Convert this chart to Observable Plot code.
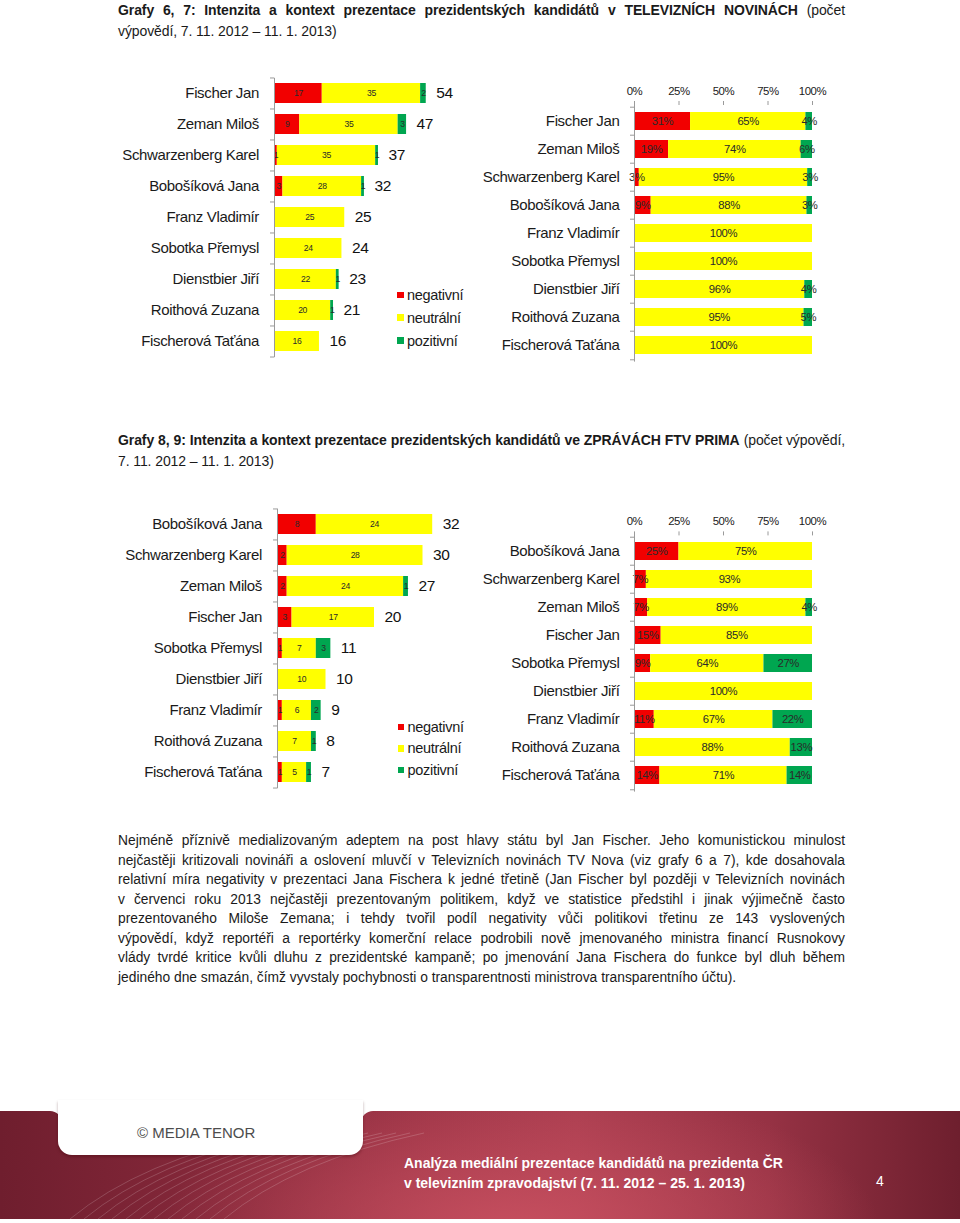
<!DOCTYPE html>
<html><head><meta charset="utf-8">
<script src="https://cdn.jsdelivr.net/npm/d3@7"></script>
<script src="https://cdn.jsdelivr.net/npm/@observablehq/plot@0.6"></script>
<style>
html,body{margin:0;padding:0;background:#fff;}
#page{position:relative;width:960px;height:1223px;overflow:hidden;color:#1a1a1a;}
.jl{position:absolute;left:118px;width:727px;text-align:justify;text-align-last:justify;white-space:normal;}
.ll{text-align-last:left;}
</style></head><body><div id="page"></div>
<script>
// ---------- data ----------
const names1 = ["Fischer Jan","Zeman Miloš","Schwarzenberg Karel","Bobošíková Jana","Franz Vladimír","Sobotka Přemysl","Dienstbier Jiří","Roithová Zuzana","Fischerová Taťána"];
const neg1 = [17, 9, 1, 3, 0, 0, 0, 0, 0];
const neu1 = [35, 35, 35, 28, 25, 24, 22, 20, 16];
const pos1 = [2, 3, 1, 1, 0, 0, 1, 1, 0];

const names2 = ["Bobošíková Jana","Schwarzenberg Karel","Zeman Miloš","Fischer Jan","Sobotka Přemysl","Dienstbier Jiří","Franz Vladimír","Roithová Zuzana","Fischerová Taťána"];
const neg2 = [8, 2, 2, 3, 1, 0, 1, 0, 1];
const neu2 = [24, 28, 24, 17, 7, 10, 6, 7, 5];
const pos2 = [0, 0, 1, 0, 3, 0, 2, 1, 1];

const sentiments = ["negativní","neutrální","pozitivní"];
const colors = ["#f20000","#ffff00","#00a650"];
const pctTicks = [0, 0.25, 0.5, 0.75, 1];

const title1 = ["Grafy 6, 7: Intenzita a kontext prezentace prezidentských kandidátů v TELEVIZNÍCH NOVINÁCH", " (počet", "výpovědí, 7. 11. 2012 – 11. 1. 2013)"];
const title2 = ["Grafy 8, 9: Intenzita a kontext prezentace prezidentských kandidátů ve ZPRÁVÁCH FTV PRIMA", " (počet výpovědí,", "7. 11. 2012 – 11. 1. 2013)"];
const paragraph = [
  "Nejméně příznivě medializovaným adeptem na post hlavy státu byl Jan Fischer. Jeho komunistickou minulost",
  "nejčastěji kritizovali novináři a oslovení mluvčí v Televizních novinách TV Nova (viz grafy 6 a 7), kde dosahovala",
  "relativní míra negativity v prezentaci Jana Fischera k jedné třetině (Jan Fischer byl později v Televizních novinách",
  "v červenci roku 2013 nejčastěji prezentovaným politikem, když ve statistice předstihl i jinak výjimečně často",
  "prezentovaného Miloše Zemana; i tehdy tvořil podíl negativity vůči politikovi třetinu ze 143 vyslovených",
  "výpovědí, když reportéři a reportérky komerční relace podrobili nově jmenovaného ministra financí Rusnokovy",
  "vlády tvrdé kritice kvůli dluhu z prezidentské kampaně; po jmenování Jana Fischera do funkce byl dluh během",
  "jediného dne smazán, čímž vyvstaly pochybnosti o transparentnosti ministrova transparentního účtu)."
];
const footerBrand = "© MEDIA TENOR";
const footerLines = ["Analýza mediální prezentace kandidátů na prezidenta ČR", "v televizním zpravodajství (7. 11. 2012 – 25. 1. 2013)"];
const pageNumber = "4";

// ---------- fonts ----------
const FONT = "'Liberation Sans',Arial,sans-serif";
const ctx = document.createElement("canvas").getContext("2d");
function tw(s, size, weight = "normal") { ctx.font = `${weight} ${size}px ${FONT}`; return ctx.measureText(s).width; }
// choose size + letter-spacing so that the given parts fit a target width
function fit(parts, target, pref, minLs) {
  const w100 = d3.sum(parts, p => tw(p.t, 100, p.w || "normal"));
  const n = d3.sum(parts, p => [...p.t].length);
  let size = pref, ls = (target - w100 * size / 100) / n;
  if (ls < minLs) { ls = minLs; size = (target - minLs * n) * 100 / w100; }
  if (ls > 0) ls = 0;
  return {size, ls};
}

const page = document.getElementById("page");
function addDiv(html, css, cls) {
  const d = document.createElement("div");
  if (cls) d.className = cls;
  d.innerHTML = html;
  Object.assign(d.style, {position: "absolute", fontFamily: FONT}, css);
  page.appendChild(d);
  return d;
}

// ---------- titles ----------
const tf = fit([{t: title2[0], w: "bold"}, {t: title2[1]}], 724, 14, -0.45);
function title(t, cy1, cy2) {
  const css = {lineHeight: "20px", fontSize: tf.size + "px", letterSpacing: tf.ls + "px"};
  addDiv(`<b>${t[0]}</b>${t[1]}`, {...css, top: (cy1 - 10) + "px"}, "jl");
  addDiv(t[2], {...css, top: (cy2 - 10) + "px"}, "jl ll");
}
title(title1, 10, 31);
title(title2, 440, 461);

// ---------- data tables ----------
function longTable(names, neg, neu, pos) {
  const out = [];
  names.forEach((n, i) => {
    const vals = [neg[i], neu[i], pos[i]];
    const tot = d3.sum(vals);
    vals.forEach((v, j) => { if (v > 0) out.push({name: n, sentiment: sentiments[j], value: v, pct: Math.round(v / tot * 100)}); });
  });
  return out;
}
function totalsTable(names, neg, neu, pos) {
  return names.map((n, i) => ({name: n, total: neg[i] + neu[i] + pos[i]}));
}
const data1 = longTable(names1, neg1, neu1, pos1);
const data2 = longTable(names2, neg2, neu2, pos2);
const tot1 = totalsTable(names1, neg1, neu1, pos1);
const tot2 = totalsTable(names2, neg2, neu2, pos2);

const axisColor = "#9a9a9a";
const baseStyle = {fontFamily: FONT, fontSize: "15px", color: "#1a1a1a", background: "transparent", overflow: "visible", letterSpacing: "-0.35px"};

function boundaryTicks(names, step) {
  return [
    Plot.ruleY(names, {y: d => d, x1: 0, x2: 0, insetLeft: -4, dy: -step / 2, stroke: axisColor}),
    Plot.ruleY(names.slice(-1), {y: d => d, x1: 0, x2: 0, insetLeft: -4, dy: step / 2, stroke: axisColor})
  ];
}

function countChart(names, data, totals, o) {
  const step = (o.height - o.mt - o.mb) / names.length;
  return Plot.plot({
    width: o.width, height: o.height,
    marginLeft: o.ml, marginRight: o.width - o.ml - o.xmax * o.ppu, marginTop: o.mt, marginBottom: o.mb,
    x: {domain: [0, o.xmax], axis: null},
    y: {domain: names, paddingInner: 0.35, paddingOuter: 0.175},
    color: {domain: sentiments, range: colors},
    style: baseStyle,
    marks: [
      Plot.barX(data, Plot.stackX({x: "value", y: "name", fill: "sentiment", order: sentiments})),
      Plot.text(data, Plot.stackX({x: "value", y: "name", z: "sentiment", order: sentiments, text: d => String(d.value), fontSize: 8.6, fill: "#2a2a2a"})),
      Plot.text(totals, {x: "total", y: "name", text: d => String(d.total), textAnchor: "start", dx: 10, fontSize: 15.5, fill: "#111"}),
      Plot.ruleX([0], {stroke: axisColor}),
      ...boundaryTicks(names, step),
      Plot.axisY({tickSize: 0, tickPadding: 15.5, fontSize: 15, label: null})
    ]
  });
}

function pctChart(names, data, o) {
  const step = (o.height - o.mt - o.mb) / names.length;
  return Plot.plot({
    width: o.width, height: o.height,
    marginLeft: o.ml, marginRight: o.mr, marginTop: o.mt, marginBottom: o.mb,
    x: {domain: [0, 1], label: null},
    y: {domain: names, paddingInner: 0.36, paddingOuter: 0.18},
    color: {domain: sentiments, range: colors},
    style: baseStyle,
    marks: [
      Plot.barX(data, Plot.stackX({x: "value", y: "name", fill: "sentiment", order: sentiments, offset: "normalize"})),
      Plot.text(data, Plot.stackX({x: "value", y: "name", z: "sentiment", order: sentiments, offset: "normalize", text: d => d.pct + "%", fontSize: 11.3, fill: "#2a2a2a"})),
      Plot.ruleX([0], {stroke: axisColor}),
      ...boundaryTicks(names, step),
      Plot.axisX(pctTicks, {anchor: "top", tickFormat: d3.format(".0%"), tickSize: 4, tickPadding: 6, stroke: axisColor, fontSize: 11.4, label: null}),
      Plot.axisY({tickSize: 0, tickPadding: 15, fontSize: 15, label: null})
    ]
  });
}

function place(svg, left, top) {
  svg.style.position = "absolute";
  svg.style.left = left + "px";
  svg.style.top = top + "px";
  page.appendChild(svg);
}

place(countChart(names1, data1, tot1, {width: 380, height: 296, ml: 174, mt: 7.8, mb: 8.8, xmax: 60, ppu: 2.81}), 100, 70);
place(pctChart(names1, data1, {width: 360, height: 300, ml: 154, mr: 28, mt: 34, mb: 8.4}), 480, 70);
place(countChart(names2, data2, tot2, {width: 380, height: 296, ml: 177, mt: 8.5, mb: 7.7, xmax: 36, ppu: 4.85}), 100, 500);
place(pctChart(names2, data2, {width: 360, height: 300, ml: 154, mr: 28, mt: 34.4, mb: 8.4}), 480, 500);

// ---------- legends ----------
function legend(x, ys) {
  sentiments.forEach((s, i) => {
    addDiv(`<span style="display:inline-block;width:6.5px;height:6.5px;background:${colors[i]};margin-right:3.5px;position:relative;top:-1px;vertical-align:middle"></span>${s}`,
      {left: x + "px", top: (ys[i] - 10) + "px", lineHeight: "20px", fontSize: "14.5px", letterSpacing: "-0.3px", whiteSpace: "nowrap"});
  });
}
legend(397, [295, 317.5, 340.5]);
legend(397.5, [726.7, 748.3, 770]);

// ---------- paragraph ----------
const longest = paragraph.reduce((a, b) => tw(a, 100) > tw(b, 100) ? a : b);
const pf = fit([{t: longest}], 0.99 * 727, 13.8, -0.3);
const paraY = [841, 860.5, 880, 899.5, 919, 938.5, 958, 977.5];
paragraph.forEach((l, i) => {
  addDiv(l, {top: (paraY[i] - 10) + "px", lineHeight: "20px", fontSize: pf.size + "px", letterSpacing: pf.ls + "px"}, i === paragraph.length - 1 ? "jl ll" : "jl");
});

// ---------- footer ----------
const bandBg = "radial-gradient(ellipse 360px 150px at 520px 120px, rgba(200,80,96,0.95), rgba(200,80,96,0) 100%), linear-gradient(90deg, #6f1e2e 0%, #85283a 22%, #9d3547 45%, #a93d4f 60%, #963244 80%, #6e1f2e 100%)";
function bandPiece(left, top, width, height, radius) {
  addDiv("", {left: left + "px", top: top + "px", width: width + "px", height: height + "px", background: bandBg,
    backgroundSize: "960px 108px", backgroundPosition: `${-left}px ${-(top - 1111)}px`, borderRadius: radius});
}
bandPiece(0, 1130, 960, 89, "0");
bandPiece(0, 1111, 62, 60, "0 12px 0 0");
bandPiece(361, 1111, 599, 60, "12px 0 0 0");
// decorative arcs
(() => {
  const ns = "http://www.w3.org/2000/svg";
  const s = document.createElementNS(ns, "svg");
  s.setAttribute("width", 960); s.setAttribute("height", 108);
  Object.assign(s.style, {position: "absolute", left: "0px", top: "1111px"});
  for (let i = 0; i < 12; i++) {
    const p = document.createElementNS(ns, "path");
    const x0 = 70 + i * 14;
    p.setAttribute("d", `M${x0},108 Q${x0 + 70},50 ${x0 + 200},22`);
    p.setAttribute("fill", "none");
    p.setAttribute("stroke", "rgba(255,255,255,0.22)");
    p.setAttribute("stroke-width", "0.8");
    s.appendChild(p);
  }
  page.appendChild(s);
})();
addDiv("", {left: "58px", top: "1100px", width: "305px", height: "55px", background: "#fff", borderRadius: "0 0 14px 14px", boxShadow: "0 2px 3px rgba(60,0,10,0.35)"});
const bf = fit([{t: footerBrand}], 130, 15, -0.4);
addDiv(footerBrand, {left: "137px", top: (1133 - 10) + "px", lineHeight: "20px", fontSize: bf.size + "px", letterSpacing: bf.ls + "px", color: "#4d4d4d", whiteSpace: "nowrap"});
const ff = fit([{t: footerLines[0], w: "bold"}], 381, 14, -0.45);
addDiv(footerLines[0], {left: "404px", top: (1163 - 10) + "px", lineHeight: "20px", fontSize: ff.size + "px", letterSpacing: ff.ls + "px", color: "#fff", fontWeight: "bold", whiteSpace: "nowrap"});
addDiv(footerLines[1], {left: "404px", top: (1183 - 10) + "px", lineHeight: "20px", fontSize: ff.size + "px", letterSpacing: ff.ls + "px", color: "#fff", fontWeight: "bold", whiteSpace: "nowrap"});
addDiv(pageNumber, {left: "876px", top: (1181 - 10) + "px", lineHeight: "20px", fontSize: "14px", color: "#fff"});
</script>
</body></html>
